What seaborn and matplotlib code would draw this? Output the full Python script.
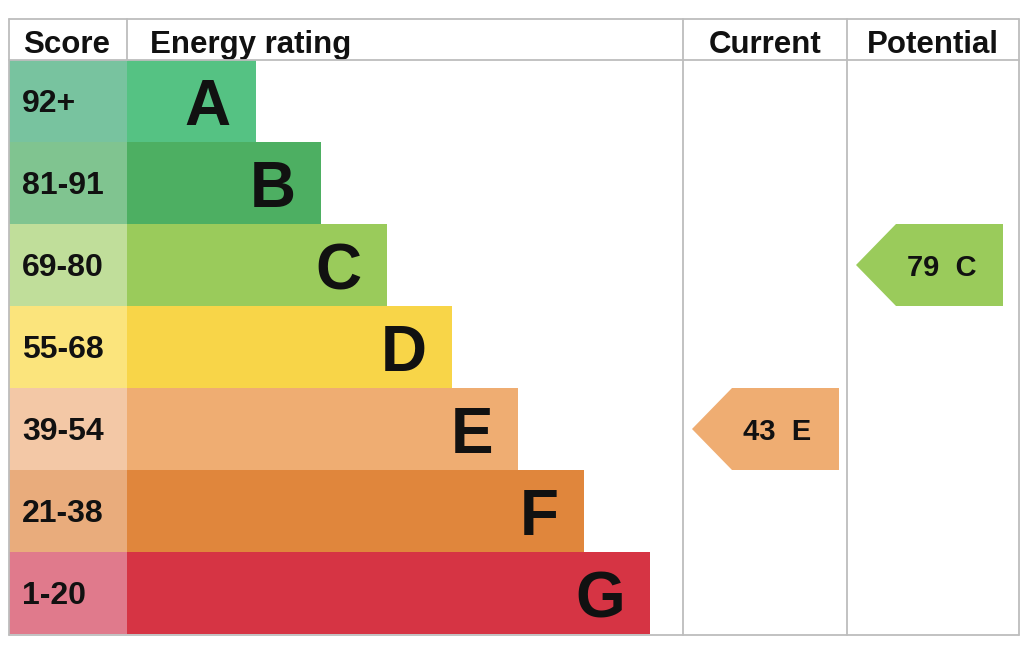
import matplotlib
matplotlib.use("Agg")
import matplotlib.pyplot as plt
from matplotlib.patches import Polygon
import seaborn as sns
import pandas as pd

# ---- data ----
bands = ["A", "B", "C", "D", "E", "F", "G"]
score_ranges = ["92+", "81-91", "69-80", "55-68", "39-54", "21-38", "1-20"]
bar_lengths = [129, 194, 260, 325, 391, 457, 523]
bar_colors = ["#55c283", "#4daf62", "#9acb5b", "#f8d548", "#efad72", "#e0863c", "#d63444"]
score_colors = ["#78c39f", "#80c490", "#c0de9a", "#fbe47c", "#f3c8a6", "#e9ac7c", "#e07a8c"]
headers = ["Score", "Energy rating", "Current", "Potential"]
current_score, current_band = 43, "E"
potential_score, potential_band = 79, "C"

sns.set_theme(style="white")
plt.rcParams["font.family"] = ["Liberation Sans", "DejaVu Sans"]

W, H = 1024, 645
fig = plt.figure(figsize=(W / 100, H / 100), dpi=100)
ax = fig.add_axes([0, 0, 1, 1])

X0 = 127          # pixel where energy bars start
ROW_H = 82        # pixel height of one row
Y_A = 101         # pixel centre of row A

def px(x):
    return x - X0

def row(y):
    return (y - Y_A) / ROW_H

df = pd.DataFrame({"band": bands, "length": bar_lengths, "score": score_ranges,
                   "neg": [-(X0 - 9)] * len(bands)})

sns.barplot(data=df, x="neg", y="band", hue="band", palette=dict(zip(bands, score_colors)),
            orient="h", width=1.0, saturation=1, legend=False, ax=ax, linewidth=0)
sns.barplot(data=df, x="length", y="band", hue="band", palette=dict(zip(bands, bar_colors)),
            orient="h", width=1.0, saturation=1, legend=False, ax=ax, linewidth=0)

ax.set_xlim(px(0), px(W))
ax.set_ylim(row(H), row(0))
ax.axis("off")

# grid lines
lc = "#bdbdbd"
lw = 1.3
top, hdr, bot = row(19), row(60), row(635)
left, right = px(9), px(1019)
c1, c2, c3 = px(127), px(683), px(847)
ax.plot([left, right], [top, top], color=lc, lw=lw, zorder=5)
ax.plot([left, right], [hdr, hdr], color=lc, lw=lw, zorder=5)
ax.plot([left, right], [bot, bot], color=lc, lw=lw, zorder=1)
for xx in (left, right, c2, c3):
    ax.plot([xx, xx], [top, bot], color=lc, lw=lw, zorder=1)
ax.plot([c1, c1], [top, hdr], color=lc, lw=lw, zorder=5)

# headers
hb = row(53)
ax.text(px(23), hb, headers[0], fontsize=22.5, fontweight="bold", va="baseline", ha="left", color="#111")
ax.text(px(150), hb, headers[1], fontsize=22.5, fontweight="bold", va="baseline", ha="left", color="#111")
ax.text(px(765), hb, headers[2], fontsize=22.5, fontweight="bold", va="baseline", ha="center", color="#111")
ax.text(px(933), hb, headers[3], fontsize=22.5, fontweight="bold", va="baseline", ha="center", color="#111")

# score labels and letters
for i, (b, s, L) in enumerate(zip(bands, score_ranges, bar_lengths)):
    ax.text(px(22), i + 11.5 / ROW_H, s, fontsize=23, fontweight="bold",
            va="baseline", ha="left", color="#111", zorder=6)
    ax.text(L - 25, i + 24 / ROW_H, b, fontsize=46, fontweight="bold",
            va="baseline", ha="right", color="#111", zorder=6)

# arrows
def arrow(score, band, tip, shoulder, rgt):
    r = bands.index(band)
    col = bar_colors[r]
    pts = [(px(tip), r), (px(shoulder), r - 0.5), (px(rgt), r - 0.5),
           (px(rgt), r + 0.5), (px(shoulder), r + 0.5)]
    ax.add_patch(Polygon(pts, closed=True, facecolor=col, edgecolor="none", zorder=4))
    cx = (shoulder + rgt) / 2 - 8
    ax.text(px(cx), r + 11.5 / ROW_H, f"{score}  {band}", fontsize=21, fontweight="bold",
            va="baseline", ha="center", color="#111", zorder=6)

arrow(current_score, current_band, 692, 732, 839)
arrow(potential_score, potential_band, 856, 896, 1003)

fig.savefig("out.png", dpi=100)
